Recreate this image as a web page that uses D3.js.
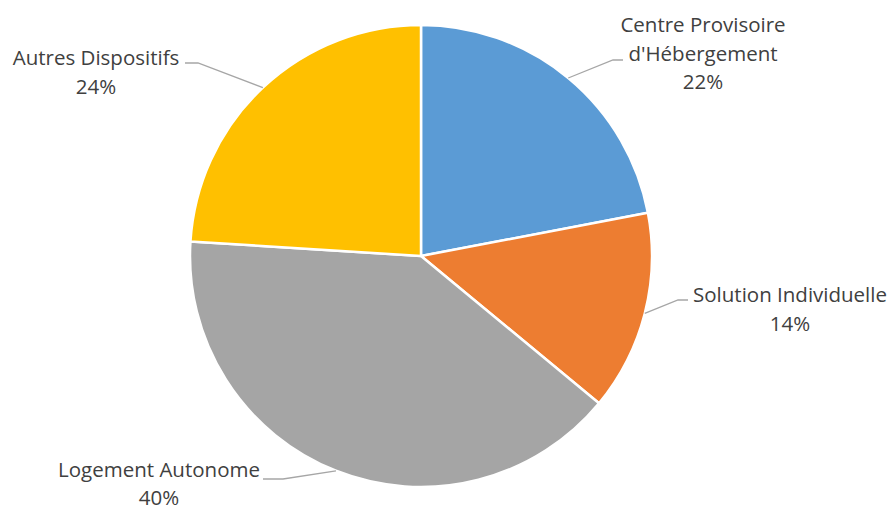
<!DOCTYPE html>
<html><head><meta charset="utf-8">
<script src="https://cdn.jsdelivr.net/npm/d3@7/dist/d3.min.js"></script>
<style>html,body{margin:0;padding:0;background:#fff;}</style>
</head><body>
<svg id="c" width="893" height="507"></svg>
<script>
const categories = ["Centre Provisoire d'Hébergement", "Solution Individuelle", "Logement Autonome", "Autres Dispositifs"];
const values = [22, 14, 40, 24];
const labelLines = [["Centre Provisoire", "d'Hébergement", "22%"], ["Solution Individuelle", "14%"], ["Logement Autonome", "40%"], ["Autres Dispositifs", "24%"]];
const colors = ["#5B9BD5", "#ED7D31", "#A5A5A5", "#FFC000"];

const W = 893, H = 507, cx = 421, cy = 256, R = 231;
const svg = d3.select("#c");
const g = svg.append("g").attr("transform", `translate(${cx},${cy})`);
const pie = d3.pie().sort(null).value(d => d)(values);
const arc = d3.arc().innerRadius(0).outerRadius(R);
g.selectAll("path.s").data(pie).join("path")
  .attr("d", arc).attr("fill", (d, i) => colors[i])
  .attr("stroke", "#fff").attr("stroke-width", 2.5).attr("stroke-linejoin", "round");

// label layout: elbow, end point of leader, text center and first baseline
const layout = [
  {elbow: [613, 60], end: [623, 60], tx: 703, ty: 32, lh: 28.5},
  {elbow: [678, 300], end: [688, 300], tx: 790, ty: 302, lh: 28.5},
  {elbow: [283, 479], end: [263, 479], tx: 159, ty: 477, lh: 27.5},
  {elbow: [198, 63], end: [185, 63], tx: 96, ty: 65, lh: 28.5}
];
pie.forEach((d, i) => {
  const a = (d.startAngle + d.endAngle) / 2;
  const sx = cx + R * Math.sin(a), sy = cy - R * Math.cos(a);
  const L = layout[i];
  svg.append("polyline")
    .attr("points", [[sx, sy], L.elbow, L.end].map(p => p.join(",")).join(" "))
    .attr("fill", "none").attr("stroke", "#A6A6A6").attr("stroke-width", 1.3);
  const t = svg.append("text").attr("text-anchor", "middle")
    .attr("font-family", "Open Sans, Liberation Sans, sans-serif")
    .attr("font-size", 20.5).attr("fill", "#404040");
  labelLines[i].forEach((s, j) => {
    t.append("tspan").attr("x", L.tx).attr("y", L.ty + j * L.lh).text(s);
  });
});
</script>
</body></html>
